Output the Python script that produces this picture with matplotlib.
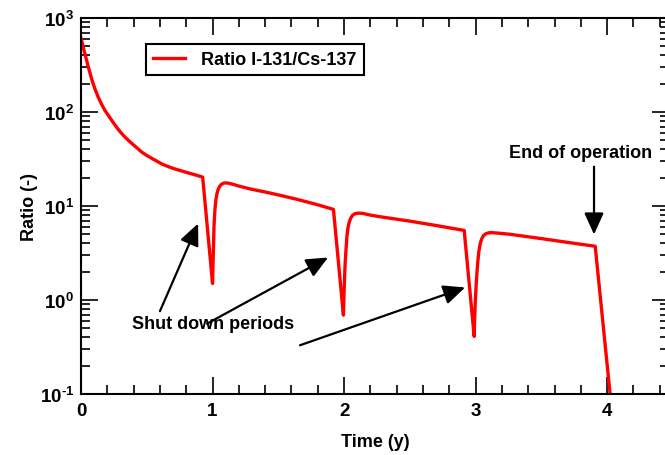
import matplotlib
matplotlib.use("Agg")
import matplotlib.pyplot as plt
from matplotlib.ticker import FixedLocator, FixedFormatter, MultipleLocator, LogLocator, NullFormatter

plt.rcParams['font.family'] = ['Liberation Sans', 'DejaVu Sans']
plt.rcParams['font.weight'] = 'bold'
plt.rcParams['axes.labelweight'] = 'bold'
plt.rcParams['mathtext.fontset'] = 'custom'
plt.rcParams['mathtext.rm'] = 'Liberation Sans:bold'
plt.rcParams['mathtext.bf'] = 'Liberation Sans:bold'
plt.rcParams['mathtext.it'] = 'Liberation Sans:bold'

# ---- data ----
time_y = [0.0, 0.01, 0.02, 0.03, 0.04, 0.056, 0.07, 0.085, 0.106, 0.13, 0.155, 0.18, 0.208,
          0.24, 0.27, 0.30, 0.335, 0.37, 0.40, 0.43, 0.461, 0.50, 0.54, 0.58, 0.614, 0.65,
          0.69, 0.73, 0.766, 0.80, 0.84, 0.88, 0.925,
          1.0, 1.003, 1.007, 1.011, 1.015, 1.02, 1.027, 1.035, 1.045, 1.057, 1.07, 1.085,
          1.10, 1.12, 1.15, 1.2, 1.285, 1.4, 1.513, 1.65, 1.8, 1.919,
          1.995, 1.999, 2.004, 2.009, 2.015, 2.022, 2.03, 2.04, 2.052, 2.066, 2.085, 2.11,
          2.14, 2.2, 2.27, 2.5, 2.7, 2.913,
          2.989, 2.993, 2.998, 3.004, 3.01, 3.017, 3.025, 3.035, 3.047, 3.06, 3.08, 3.105,
          3.13, 3.2, 3.262, 3.5, 3.7, 3.909,
          4.044]
ratio = [610, 540, 470, 415, 367, 300, 255, 215, 176, 145, 122, 105, 92,
         79, 69, 61, 54, 48.5, 44.5, 41, 37.5, 34.5, 32, 29.8, 28, 26.7,
         25.4, 24.4, 23.6, 22.8, 22.0, 21.2, 20.3,
         1.5, 2.2, 3.6, 6.0, 7.8, 9.8, 12.0, 13.8, 15.3, 16.4, 17.1, 17.5,
         17.6, 17.5, 17.1, 16.3, 15.2, 14.1, 13.0, 11.7, 10.3, 9.2,
         0.69, 1.1, 1.8, 2.6, 3.5, 4.8, 5.9, 6.8, 7.5, 8.0, 8.3, 8.4,
         8.35, 8.0, 7.7, 6.9, 6.2, 5.5,
         0.41, 0.65, 1.0, 1.45, 1.95, 2.6, 3.3, 4.0, 4.5, 4.85, 5.1, 5.2,
         5.2, 5.1, 5.0, 4.5, 4.1, 3.73,
         0.05]
series_label = 'Ratio I-131/Cs-137'

xtick_values = [0, 1, 2, 3, 4]
xtick_labels = ['0', '1', '2', '3', '4']
ytick_values = [0.1, 1, 10, 100, 1000]
ytick_labels = [r'$10^{\text{-}1}$', r'$10^{0}$', r'$10^{1}$', r'$10^{2}$', r'$10^{3}$']

x_label = 'Time (y)'
y_label = 'Ratio (-)'

shutdown_text = 'Shut down periods'
end_text = 'End of operation'

W, H = 665, 456
fig = plt.figure(figsize=(W / 100, H / 100), dpi=100)
ax = fig.add_axes([81 / W, (H - 395) / H, 588 / W, 376 / H])

ax.plot(time_y, ratio, color='#ff0000', lw=2.4, label=series_label, clip_on=True,
        solid_joinstyle='round')
ax.set_yscale('log')
ax.set_xlim(0, 4.47)
ax.set_ylim(0.1, 1000)

ax.xaxis.set_major_locator(FixedLocator(xtick_values))
ax.xaxis.set_major_formatter(FixedFormatter(xtick_labels))
ax.xaxis.set_minor_locator(MultipleLocator(0.2))
ax.yaxis.set_major_locator(FixedLocator(ytick_values))
ax.yaxis.set_major_formatter(FixedFormatter(ytick_labels))
ax.yaxis.set_minor_locator(LogLocator(base=10, subs=range(2, 10), numticks=20))
ax.yaxis.set_minor_formatter(NullFormatter())

ax.tick_params(which='both', direction='in', top=True, right=True, width=1.2, color='black')
ax.tick_params(which='major', length=12.5, labelsize=13.5)
ax.tick_params(which='minor', length=6.5)
ax.tick_params(axis='x', which='major', pad=6)
ax.tick_params(axis='y', which='major', pad=5)
for s in ax.spines.values():
    s.set_linewidth(1.5)
    s.set_color('black')

ax.set_xlabel(x_label, fontsize=13, labelpad=10)
ax.set_ylabel(y_label, fontsize=13)
ax.yaxis.set_label_coords(-0.073, 0.5)

leg = ax.legend(loc='upper left', bbox_to_anchor=(0.1105, 0.931), fontsize=13,
                frameon=True, fancybox=False, edgecolor='black', framealpha=1,
                borderpad=0.4, handlelength=1.75, handletextpad=0.9, borderaxespad=0)
leg.get_frame().set_linewidth(1.5)

arrow_kw = dict(arrowstyle='-|>,head_length=0.6,head_width=0.27', color='black', lw=1.6,
                mutation_scale=22, shrinkA=0, shrinkB=0)
ax.annotate('', xy=(0.89, 6.5), xytext=(0.60, 0.76), arrowprops=arrow_kw)
ax.annotate('', xy=(1.878, 2.83), xytext=(0.958, 0.56), arrowprops=arrow_kw)
ax.annotate('', xy=(2.92, 1.36), xytext=(1.665, 0.33), arrowprops=arrow_kw)
ax.annotate('', xy=(3.90, 4.97), xytext=(3.90, 26.2), arrowprops=arrow_kw)
ax.text(1.004, 0.565, shutdown_text, ha='center', va='center', fontsize=13)
ax.text(3.795, 36.9, end_text, ha='center', va='center', fontsize=13)

fig.savefig('out.png', dpi=100)
